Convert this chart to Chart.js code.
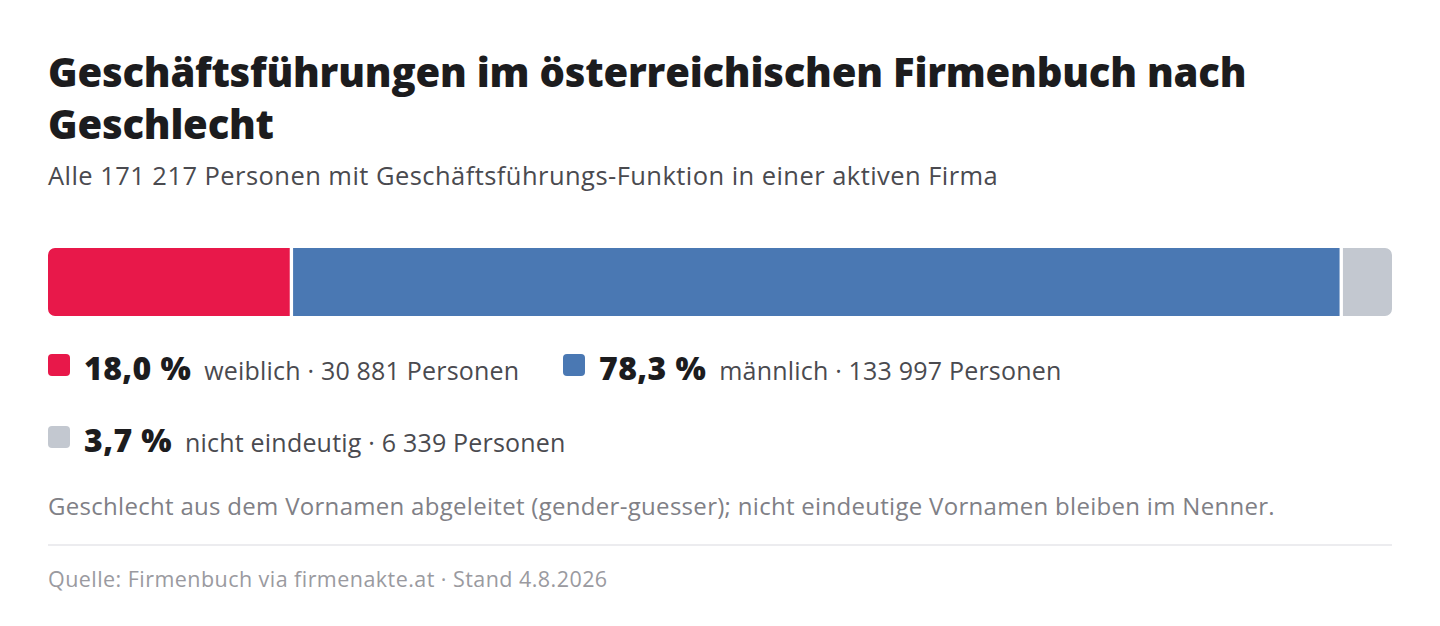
<!DOCTYPE html>
<html lang="de">
<head>
<meta charset="utf-8">
<script src="https://cdn.jsdelivr.net/npm/chart.js@4/dist/chart.umd.min.js"></script>
<style>
  html, body { margin: 0; background: #fff; }
  body { font-family: "Open Sans", "Noto Sans", sans-serif; width: 1440px; height: 626px; overflow: hidden; }
  .wrap { position: absolute; left: 48px; top: 0; width: 1344px; }
  h1 { margin: 0; position: absolute; top: 46px; left: 0; width: 1250px; font-size: 40px; line-height: 52px; font-weight: 800; color: #1c1c1e; letter-spacing: -0.2px; }
  .sub { position: absolute; top: 158px; left: 0; font-size: 25.5px; letter-spacing: 0.45px; color: #4a4a4f; white-space: nowrap; }
  .bar { position: absolute; top: 248px; left: 0; width: 1344px; height: 68px; }
  .legend { position: absolute; top: 346px; left: 0; width: 1344px; }
  .item { position: absolute; display: flex; align-items: baseline; white-space: nowrap; }
  .sw { display: inline-block; width: 22px; height: 22px; border-radius: 4px; margin-right: 14px; position: relative; top: -4px; }
  .pct { font-size: 32px; letter-spacing: 0.4px; font-weight: 800; color: #1c1c1e; margin-right: 13px; }
  .txt { font-size: 25px; letter-spacing: 0.2px; color: #4a4a4f; }
  .note { position: absolute; top: 489px; left: 0; font-size: 24px; letter-spacing: 0.3px; color: #808086; white-space: nowrap; }
  .rule { position: absolute; top: 544px; left: 0; width: 1344px; height: 2px; background: #ececef; }
  .src { position: absolute; top: 564px; left: 0; font-size: 21.5px; letter-spacing: 0.45px; color: #9a9aa0; white-space: nowrap; }
</style>
</head>
<body>
<div class="wrap">
  <h1>Geschäftsführungen im österreichischen Firmenbuch nach Geschlecht</h1>
  <div class="sub">Alle 171 217 Personen mit Geschäftsführungs-Funktion in einer aktiven Firma</div>
  <div class="bar"><canvas id="bar"></canvas></div>
  <div class="legend" id="legend"></div>
  <div class="note">Geschlecht aus dem Vornamen abgeleitet (gender-guesser); nicht eindeutige Vornamen bleiben im Nenner.</div>
  <div class="rule"></div>
  <div class="src">Quelle: Firmenbuch via firmenakte.at · Stand 4.8.2026</div>
</div>
<script>
const categories = ["weiblich", "männlich", "nicht eindeutig"];
const persons = [30881, 133997, 6339];
const colors = ["#e8184a", "#4a78b3", "#c3c8d0"];

const total = persons.reduce((a, b) => a + b, 0);
const fmtInt = n => String(n).replace(/\B(?=(\d{3})+(?!\d))/g, " ");
const fmtPct = v => (v * 100).toFixed(1).replace(".", ",") + " %";

// legend as html
const legend = document.getElementById("legend");
const legendPos = [[0, 0], [515, 0], [0, 72]];
categories.forEach((c, i) => {
  const el = document.createElement("div");
  el.className = "item";
  el.style.left = legendPos[i][0] + "px";
  el.style.top = legendPos[i][1] + "px";
  el.innerHTML = '<span class="sw" style="background:' + colors[i] + '"></span>' +
    '<span class="pct">' + fmtPct(persons[i] / total) + '</span>' +
    '<span class="txt">' + c + ' · ' + fmtInt(persons[i]) + ' Personen</span>';
  legend.appendChild(el);
});

// white borders make the gaps between segments
const gapBorders = [
  { left: 0, right: 1, top: 0, bottom: 0 },
  { left: 3, right: 3, top: 0, bottom: 0 },
  { left: 1, right: 0, top: 0, bottom: 0 }
];
const last = categories.length - 1;
const datasets = categories.map((c, i) => ({
  label: c,
  data: [persons[i]],
  backgroundColor: colors[i],
  borderColor: "#ffffff",
  borderWidth: gapBorders[i],
  borderSkipped: false,
  borderRadius: {
    topLeft: i === 0 ? 7 : 0, bottomLeft: i === 0 ? 7 : 0,
    topRight: i === last ? 7 : 0, bottomRight: i === last ? 7 : 0
  },
  barPercentage: 1,
  categoryPercentage: 1
}));

new Chart(document.getElementById("bar"), {
  type: "bar",
  data: { labels: [""], datasets: datasets },
  options: {
    indexAxis: "y",
    responsive: true,
    maintainAspectRatio: false,
    animation: false,
    layout: { padding: 0 },
    plugins: { legend: { display: false }, tooltip: { enabled: false } },
    scales: {
      x: { stacked: true, min: 0, max: total, display: false },
      y: { stacked: true, display: false }
    }
  }
});
</script>
</body>
</html>
